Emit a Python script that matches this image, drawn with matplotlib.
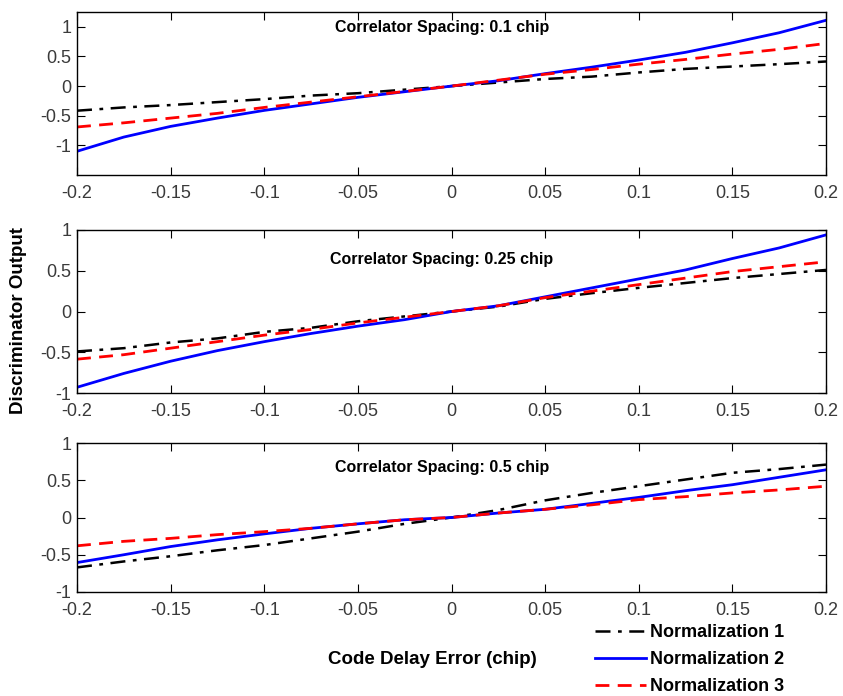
import numpy as np
import matplotlib.pyplot as plt

plt.rcParams['font.family'] = ['Liberation Sans', 'DejaVu Sans']

# code delay error (chip)
delay = [-0.2, -0.175, -0.15, -0.125, -0.1, -0.075, -0.05, -0.025, 0.0,
         0.025, 0.05, 0.075, 0.1, 0.125, 0.15, 0.175, 0.2]

# correlator spacing 0.1 chip
n1_01 = [-0.415, -0.36, -0.32, -0.27, -0.22, -0.16, -0.12, -0.06, 0.0,
         0.06, 0.12, 0.16, 0.23, 0.29, 0.33, 0.37, 0.415]
n2_01 = [-1.10, -0.86, -0.68, -0.54, -0.41, -0.30, -0.19, -0.095, 0.0,
         0.09, 0.21, 0.32, 0.44, 0.57, 0.73, 0.90, 1.11]
n3_01 = [-0.69, -0.62, -0.54, -0.46, -0.36, -0.27, -0.18, -0.09, 0.0,
         0.10, 0.20, 0.28, 0.37, 0.45, 0.54, 0.62, 0.72]

# correlator spacing 0.25 chip
n1_025 = [-0.49, -0.45, -0.38, -0.33, -0.25, -0.20, -0.12, -0.06, 0.0,
          0.06, 0.155, 0.225, 0.29, 0.35, 0.41, 0.46, 0.51]
n2_025 = [-0.93, -0.76, -0.61, -0.48, -0.37, -0.27, -0.18, -0.10, 0.0,
          0.07, 0.18, 0.29, 0.40, 0.51, 0.65, 0.78, 0.94]
n3_025 = [-0.585, -0.53, -0.45, -0.37, -0.29, -0.22, -0.14, -0.07, 0.0,
          0.07, 0.17, 0.25, 0.33, 0.41, 0.49, 0.55, 0.61]

# correlator spacing 0.5 chip
n1_05 = [-0.67, -0.59, -0.52, -0.44, -0.37, -0.28, -0.19, -0.085, 0.0,
         0.10, 0.23, 0.33, 0.42, 0.51, 0.60, 0.65, 0.71]
n2_05 = [-0.605, -0.50, -0.39, -0.30, -0.22, -0.145, -0.085, -0.03, 0.0,
         0.06, 0.11, 0.19, 0.27, 0.36, 0.44, 0.54, 0.64]
n3_05 = [-0.38, -0.32, -0.28, -0.23, -0.19, -0.145, -0.085, -0.03, 0.0,
         0.06, 0.11, 0.17, 0.24, 0.28, 0.33, 0.37, 0.42]

titles = ['Correlator Spacing: 0.1 chip', 'Correlator Spacing: 0.25 chip',
          'Correlator Spacing: 0.5 chip']
series = [(n1_01, n2_01, n3_01), (n1_025, n2_025, n3_025), (n1_05, n2_05, n3_05)]
labels = ['Normalization 1', 'Normalization 2', 'Normalization 3']

fig = plt.figure(figsize=(8.43, 6.96), dpi=100)
W, H = 843, 696

# axes boxes in pixels (left, top, right, bottom)
boxes = [(77, 12, 826, 175), (77, 230, 826, 393), (77, 443, 826, 592)]
ylims = [(-1.5, 1.25), (-1, 1), (-1, 1)]
title_y = [0.905, 0.82, 0.835]

axes = []
for i, (l, t, r, b) in enumerate(boxes):
    ax = fig.add_axes([l / W, 1 - b / H, (r - l) / W, (b - t) / H])
    n1, n2, n3 = series[i]
    ax.plot(delay, n1, color='black', lw=1.8, linestyle=(0, (6, 3, 1.5, 3)), label=labels[0])
    ax.plot(delay, n2, color='#0000ff', lw=2, linestyle='-', label=labels[1])
    ax.plot(delay, n3, color='#ff0000', lw=2, linestyle=(0, (5, 3)), label=labels[2])
    ax.set_xlim(-0.2, 0.2)
    ax.set_ylim(*ylims[i])
    ax.set_xticks([-0.2, -0.15, -0.1, -0.05, 0, 0.05, 0.1, 0.15, 0.2])
    ax.set_xticklabels(['-0.2', '-0.15', '-0.1', '-0.05', '0', '0.05', '0.1', '0.15', '0.2'])
    ax.set_yticks([-1, -0.5, 0, 0.5, 1])
    ax.set_yticklabels(['-1', '-0.5', '0', '0.5', '1'])
    ax.tick_params(direction='in', top=True, right=True, length=5.5, width=0.8,
                   labelsize=13, labelcolor='#3a3a3a')
    ax.tick_params(axis='x', pad=7)
    ax.tick_params(axis='y', pad=4)
    for s in ax.spines.values():
        s.set_linewidth(1)
    ax.text(0.487, title_y[i], titles[i], transform=ax.transAxes, ha='center',
            va='center', fontsize=11.5, fontweight='bold')
    axes.append(ax)

fig.text(19 / W, 1 - 320 / H, 'Discriminator Output', rotation=90, ha='center',
         va='center', fontsize=13.5, fontweight='bold')
fig.text(432 / W, 1 - 659 / H, 'Code Delay Error (chip)', ha='center', va='center',
         fontsize=13.5, fontweight='bold')

h, lab = axes[2].get_legend_handles_labels()
fig.legend(h, lab, loc='upper left', bbox_to_anchor=(595 / W, 1 - 624 / H),
           frameon=False, prop={'weight': 'bold', 'size': 13},
           handlelength=2.8, handletextpad=0.25, labelspacing=0.55,
           borderpad=0, borderaxespad=0)

fig.savefig('out.png', dpi=100)
